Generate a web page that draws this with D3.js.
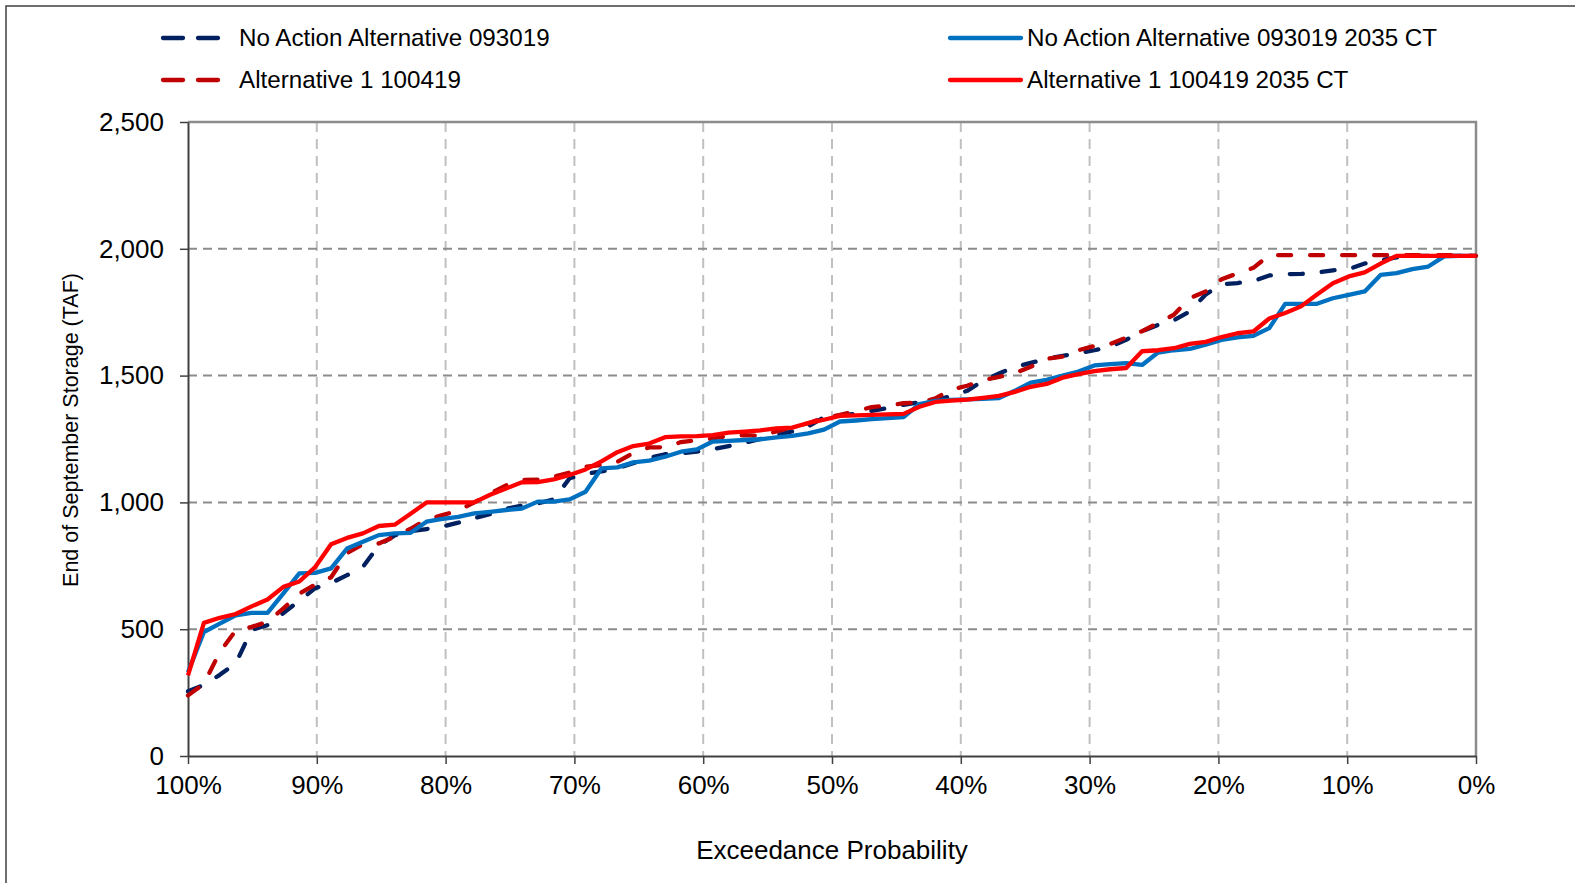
<!DOCTYPE html>
<html>
<head>
<meta charset="utf-8">
<script src="https://cdn.jsdelivr.net/npm/d3@7"></script>
<style>
  html, body { margin: 0; padding: 0; background: #ffffff; }
  svg { display: block; font-family: "Liberation Sans", Arial, sans-serif; }
</style>
</head>
<body>
<svg id="chart" width="1575" height="883"></svg>
<script>
// End-of-September storage (TAF), ranked years, highest exceedance first
const noAction = [255, 280, 320, 365, 497, 516, 564, 612, 662, 682,
  713, 746, 830, 870, 886, 895, 905, 920, 938, 954,
  975, 987, 996, 1012, 1095, 1113, 1122, 1135, 1155, 1175,
  1190, 1194, 1200, 1210, 1222, 1235, 1250, 1265, 1280, 1300,
  1336, 1342, 1350, 1361, 1372, 1385, 1395, 1402, 1420, 1440,
  1480, 1508, 1534, 1550, 1566, 1578, 1588, 1600, 1614, 1641,
  1675, 1700, 1718, 1753, 1820, 1860, 1865, 1873, 1895, 1900,
  1901, 1906, 1915, 1920, 1942, 1955, 1966, 1972, 1972, 1972,
  1972, 1972];

const alt1 = [239, 285, 410, 495, 509, 529, 582, 640, 676, 705,
  800, 835, 838, 865, 896, 932, 950, 968, 1000, 1035,
  1067, 1088, 1090, 1101, 1118, 1140, 1148, 1160, 1195, 1217,
  1217, 1238, 1245, 1252, 1262, 1265, 1262, 1280, 1296, 1312,
  1334, 1345, 1360, 1376, 1382, 1391, 1394, 1410, 1445, 1460,
  1482, 1495, 1510, 1535, 1566, 1575, 1600, 1617, 1625, 1650,
  1675, 1707, 1740, 1805, 1832, 1880, 1903, 1925, 1975, 1975,
  1975, 1975, 1975, 1975, 1975, 1975, 1975, 1975, 1975, 1975,
  1975, 1972];

const noActionCT = [330, 489, 522, 555, 564, 564, 641, 720, 722, 740,
  818, 845, 871, 878, 880, 924, 935, 943, 957, 963,
  970, 976, 1003, 1003, 1012, 1042, 1134, 1138, 1158, 1165,
  1180, 1200, 1209, 1240, 1243, 1246, 1249, 1256, 1262, 1272,
  1287, 1319, 1323, 1328, 1332, 1336, 1388, 1400, 1404, 1406,
  1408, 1411, 1440, 1472, 1483, 1500, 1516, 1540, 1545, 1549,
  1542, 1591, 1600, 1605, 1622, 1641, 1651, 1657, 1687, 1783,
  1783, 1783, 1805, 1818, 1832, 1897, 1904, 1920, 1930, 1970,
  1972, 1972];

const alt1CT = [318, 525, 545, 560, 590, 617, 667, 688, 745, 835,
  860, 878, 907, 912, 955, 1000, 1000, 1000, 1000, 1030,
  1055, 1079, 1080, 1091, 1108, 1130, 1162, 1198, 1222, 1232,
  1257, 1260, 1261, 1265, 1275, 1279, 1284, 1292, 1295, 1313,
  1326, 1341, 1343, 1345, 1347, 1349, 1377, 1396, 1401, 1405,
  1412, 1420, 1436, 1456, 1467, 1492, 1506, 1518, 1525, 1530,
  1596, 1600, 1608, 1625, 1633, 1652, 1667, 1674, 1725, 1747,
  1773, 1820, 1864, 1891, 1907, 1942, 1972, 1972, 1972, 1972,
  1972, 1972];

const seriesNames = [
  "No Action Alternative 093019",
  "Alternative 1 100419",
  "No Action Alternative 093019 2035 CT",
  "Alternative 1 100419 2035 CT"
];
const yTicks = [0, 500, 1000, 1500, 2000, 2500];
const xTicks = [1, 0.9, 0.8, 0.7, 0.6, 0.5, 0.4, 0.3, 0.2, 0.1, 0];

const series = [
  { name: seriesNames[0], values: noAction,   color: "#002060", dashed: true },
  { name: seriesNames[1], values: alt1,       color: "#c00000", dashed: true },
  { name: seriesNames[2], values: noActionCT, color: "#0070c0", dashed: false },
  { name: seriesNames[3], values: alt1CT,     color: "#ff0000", dashed: false }
];

// Exceedance plotting position of each ranked year
const n = noAction.length;
const exceedance = d3.range(n).map(i => 1 - i / (n - 1));

const svg = d3.select("#chart");
const plot = { left: 188, right: 1476, top: 122, bottom: 756 };

const x = d3.scaleLinear().domain([1, 0]).range([plot.left, plot.right]);
const y = d3.scaleLinear().domain([0, 2500]).range([plot.bottom, plot.top]);

// outer chart frame
svg.append("rect")
  .attr("x", 6).attr("y", 6)
  .attr("width", 1600).attr("height", 900)
  .attr("fill", "none").attr("stroke", "#404040").attr("stroke-width", 1.5);

// gridlines
svg.append("g").selectAll("line")
  .data(xTicks.filter(d => d > 0 && d < 1))
  .join("line")
  .attr("x1", d => x(d)).attr("x2", d => x(d))
  .attr("y1", plot.top).attr("y2", plot.bottom)
  .attr("stroke", "#c0c0c0").attr("stroke-width", 2)
  .attr("stroke-dasharray", "10,7");

svg.append("g").selectAll("line")
  .data(yTicks.filter(d => d > 0 && d < 2500))
  .join("line")
  .attr("x1", plot.left).attr("x2", plot.right)
  .attr("y1", d => y(d)).attr("y2", d => y(d))
  .attr("stroke", "#8c8c8c").attr("stroke-width", 2)
  .attr("stroke-dasharray", "9,6");

// plot area top and right border
svg.append("path")
  .attr("d", `M${plot.left},${y(2500)}H${plot.right}V${plot.bottom}`)
  .attr("fill", "none").attr("stroke", "#8c8c8c").attr("stroke-width", 2.5);

// axes
const yAxis = svg.append("g")
  .attr("transform", `translate(${plot.left},0)`)
  .call(d3.axisLeft(y).tickValues(yTicks).tickFormat(d3.format(","))
    .tickSize(8).tickSizeOuter(0).tickPadding(16));

const xAxis = svg.append("g")
  .attr("transform", `translate(0,${plot.bottom})`)
  .call(d3.axisBottom(x).tickValues(xTicks).tickFormat(d3.format(".0%"))
    .tickSize(8).tickSizeOuter(0).tickPadding(12));

[yAxis, xAxis].forEach(g => {
  g.select(".domain").attr("stroke", "#404040").attr("stroke-width", 2);
  g.selectAll(".tick line").attr("stroke", "#404040").attr("stroke-width", 1.5);
  g.selectAll(".tick text").attr("fill", "#000").style("font-size", "26px")
    .style("font-family", "'Liberation Sans', Arial, sans-serif");
});

// series lines
const line = d3.line()
  .x((d, i) => x(exceedance[i]))
  .y(d => y(d));

svg.append("g").selectAll("path")
  .data(series)
  .join("path")
  .attr("d", d => line(d.values))
  .attr("fill", "none")
  .attr("stroke", d => d.color)
  .attr("stroke-width", 4.3)
  .attr("stroke-linejoin", "round")
  .attr("stroke-linecap", d => d.dashed ? "round" : "butt")
  .attr("stroke-dasharray", d => d.dashed ? "13,19" : null);

// axis titles
svg.append("text")
  .attr("x", (plot.left + plot.right) / 2).attr("y", 859)
  .attr("text-anchor", "middle")
  .style("font-size", "26px")
  .text("Exceedance Probability");

svg.append("text")
  .attr("transform", "translate(78,430) rotate(-90)")
  .attr("text-anchor", "middle")
  .style("font-size", "21.5px")
  .text("End of September Storage (TAF)");

// legend
const legendPos = [
  { x1: 163, x2: 219, tx: 239, y: 38 },
  { x1: 163, x2: 219, tx: 239, y: 80 },
  { x1: 950, x2: 1021, tx: 1027, y: 38 },
  { x1: 950, x2: 1021, tx: 1027, y: 80 }
];
const legend = svg.append("g").selectAll("g")
  .data(series)
  .join("g");
legend.append("line")
  .attr("x1", (d, i) => legendPos[i].x1).attr("x2", (d, i) => legendPos[i].x2)
  .attr("y1", (d, i) => legendPos[i].y).attr("y2", (d, i) => legendPos[i].y)
  .attr("stroke", d => d.color).attr("stroke-width", 4.3)
  .attr("stroke-linecap", "round")
  .attr("stroke-dasharray", d => d.dashed ? "20,15" : null);
legend.append("text")
  .attr("x", (d, i) => legendPos[i].tx)
  .attr("y", (d, i) => legendPos[i].y)
  .attr("dy", "0.35em")
  .style("font-size", "24.2px")
  .text(d => d.name);
</script>
</body>
</html>
